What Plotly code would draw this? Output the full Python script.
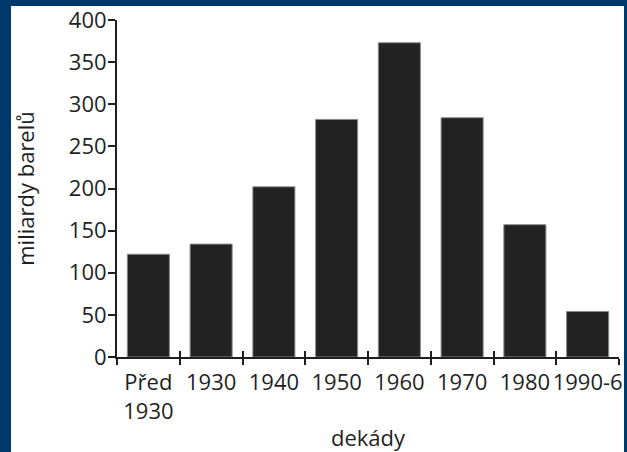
import plotly.graph_objects as go

categories = ["Před<br>1930", "1930", "1940", "1950", "1960", "1970", "1980", "1990-6"]
values = [122, 134, 202, 282, 373, 284, 157, 54]
y_ticks = [0, 50, 100, 150, 200, 250, 300, 350, 400]

FONT = "Open Sans"
INK = "#1f1f1f"
NAVY = "#00386b"
FS = 22

n = len(categories)
boundaries = [i - 0.5 for i in range(n + 1)]

fig = go.Figure()
fig.add_trace(go.Bar(
    x=categories, y=values,
    marker=dict(color="#222222", line=dict(color="#8a8a8a", width=1)),
    width=0.67,
    hoverinfo="skip",
))

fig.update_layout(
    width=627, height=452,
    margin=dict(l=117, r=8, t=20, b=95, autoexpand=False),
    paper_bgcolor=NAVY,
    plot_bgcolor="white",
    showlegend=False,
    font=dict(family=FONT, size=FS, color=INK),
    xaxis=dict(
        type="category",
        categoryorder="array", categoryarray=categories,
        range=[-0.5, n - 0.5],
        showline=True, linecolor=INK, linewidth=2,
        ticks="outside", tickson="boundaries", ticklen=6, tickwidth=2, tickcolor=INK,
        tickangle=0, automargin=False, ticklabelstandoff=5,
        tickfont=dict(family=FONT, size=FS, color=INK),
        title=dict(text="dekády", font=dict(family=FONT, size=FS, color=INK), standoff=8),
        showgrid=False, zeroline=False,
        fixedrange=True,
    ),
    xaxis2=dict(
        overlaying="x", anchor="y", side="bottom",
        range=[-0.5, n - 0.5], automargin=False,
        tickmode="array", tickvals=boundaries,
        ticks="inside", ticklen=6, tickwidth=2, tickcolor=INK,
        showticklabels=False, showline=False, showgrid=False, zeroline=False,
    ),
    yaxis=dict(
        range=[0, 400], automargin=False,
        tickmode="array", tickvals=y_ticks,
        showline=True, linecolor=INK, linewidth=2,
        ticks="outside", ticklen=7, tickwidth=2, tickcolor=INK,
        ticklabelstandoff=-3,
        tickfont=dict(family=FONT, size=FS, color=INK),
        title=dict(text="miliardy barelů", font=dict(family=FONT, size=FS, color=INK), standoff=28),
        showgrid=False, zeroline=False,
    ),
    shapes=[
        dict(type="rect", xref="paper", yref="paper",
             x0=-0.2112, x1=1.00996, y0=-0.35, y1=1.0415,
             fillcolor="white", line=dict(width=0), layer="below"),
    ],
)
# invisible trace so xaxis2 is drawn
fig.add_trace(go.Scatter(x=[boundaries[0]], y=[0], xaxis="x2", mode="markers",
                         marker=dict(opacity=0), hoverinfo="skip", showlegend=False))

fig.write_html("out.html", config={"displayModeBar": False},
               post_script="document.body.style.margin='0';document.body.style.overflow='hidden';")
